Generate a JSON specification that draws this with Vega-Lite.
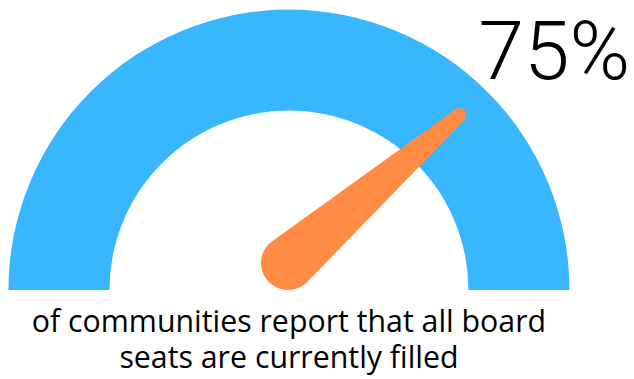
{
  "$schema": "https://vega.github.io/schema/vega-lite/v6.json",
  "width": 634,
  "height": 379,
  "autosize": {"type": "fit", "contains": "padding"},
  "padding": 0,
  "background": "white",
  "config": {"view": {"stroke": null}},
  "data": {"values": [{"metric": "Communities with all board seats filled", "share": 0.75}]},
  "layer": [
    {
      "data": {"values": [{"part": "gauge", "span": 1}]},
      "mark": {"type": "arc", "innerRadius": 179.5, "outerRadius": 280.5, "color": "#38B6FF"},
      "encoding": {
        "theta": {"field": "span", "type": "quantitative", "scale": {"domain": [0, 1], "range": [-1.5708, 1.5708]}},
        "x": {"datum": 0, "type": "quantitative", "scale": {"domain": [-1.03, 1.23]}, "axis": null},
        "y": {"datum": 0, "type": "quantitative", "scale": {"domain": [-0.317, 1.034]}, "axis": null}
      }
    },
    {
      "mark": {
        "type": "point",
        "shape": "M0.072,-0.1881L0.038,-2.4441A0.07,0.07,0,0,0,-0.1011,-2.4543L-0.4645,-0.2275A0.27,0.27,0,1,0,0.072,-0.1881Z",
        "size": 40000,
        "filled": true,
        "color": "#FF8C42",
        "opacity": 1,
        "strokeWidth": 0
      },
      "encoding": {
        "x": {"datum": 0, "type": "quantitative", "scale": {"domain": [-1.03, 1.23]}, "axis": null},
        "y": {"datum": 0, "type": "quantitative", "scale": {"domain": [-0.317, 1.034]}, "axis": null},
        "angle": {"field": "share", "type": "quantitative", "scale": {"domain": [0, 1], "range": [-90, 90]}}
      }
    },
    {
      "mark": {"type": "text", "align": "right", "baseline": "alphabetic", "font": "Roboto", "fontSize": 82, "fontWeight": 300, "color": "black"},
      "encoding": {
        "text": {"field": "share", "type": "quantitative", "format": ".0%"},
        "x": {"datum": 1.216, "type": "quantitative", "scale": {"domain": [-1.03, 1.23]}, "axis": null},
        "y": {"datum": 0.752, "type": "quantitative", "scale": {"domain": [-0.317, 1.034]}, "axis": null}
      }
    },
    {
      "mark": {"type": "text", "align": "center", "baseline": "alphabetic", "font": "Open Sans", "fontSize": 30.3, "lineHeight": 36.3, "color": "black",
        "text": ["of communities report that all board", "seats are currently filled"]},
      "encoding": {
        "x": {"datum": 0, "type": "quantitative", "scale": {"domain": [-1.03, 1.23]}, "axis": null},
        "y": {"datum": -0.1487, "type": "quantitative", "scale": {"domain": [-0.317, 1.034]}, "axis": null}
      }
    }
  ]
}
